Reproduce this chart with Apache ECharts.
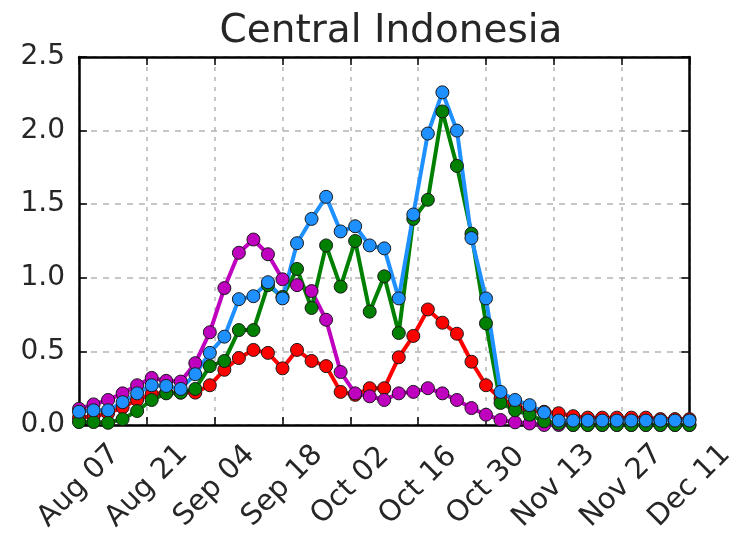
<!DOCTYPE html>
<html>
<head>
<meta charset="utf-8">
<script src="https://cdn.jsdelivr.net/npm/echarts@6/dist/echarts.min.js"></script>
<style>
  html, body { margin: 0; padding: 0; background: #fff; }
  #chart { width: 738px; height: 541px; }
</style>
</head>
<body>
<div id="chart"></div>
<script>
// Sample dates, every three days from Aug 07 to Dec 11
const dates = [
  '2015-08-07','2015-08-10','2015-08-13','2015-08-16','2015-08-19','2015-08-22','2015-08-25',
  '2015-08-28','2015-08-31','2015-09-03','2015-09-06','2015-09-09','2015-09-12','2015-09-15',
  '2015-09-18','2015-09-21','2015-09-24','2015-09-27','2015-09-30','2015-10-03','2015-10-06',
  '2015-10-09','2015-10-12','2015-10-15','2015-10-18','2015-10-21','2015-10-24','2015-10-27',
  '2015-10-30','2015-11-02','2015-11-05','2015-11-08','2015-11-11','2015-11-14','2015-11-17',
  '2015-11-20','2015-11-23','2015-11-26','2015-11-29','2015-12-02','2015-12-05','2015-12-08',
  '2015-12-11'
];

const redValues = [
  0.05, 0.06, 0.08, 0.12, 0.17, 0.21, 0.22, 0.22, 0.22, 0.27, 0.375, 0.455, 0.51, 0.49,
  0.385, 0.51, 0.435, 0.40, 0.225, 0.205, 0.25, 0.25, 0.46, 0.605, 0.785, 0.695, 0.62,
  0.43, 0.27, 0.18, 0.13, 0.10, 0.09, 0.08, 0.06, 0.05, 0.05, 0.05, 0.05, 0.05, 0.04,
  0.04, 0.04
];
const magentaValues = [
  0.11, 0.14, 0.17, 0.215, 0.27, 0.32, 0.30, 0.295, 0.42, 0.63, 0.93, 1.17, 1.26, 1.16,
  0.99, 0.95, 0.91, 0.715, 0.36, 0.215, 0.195, 0.17, 0.215, 0.225, 0.25, 0.215, 0.17,
  0.115, 0.07, 0.034, 0.018, 0.01, 0.0, 0.0, 0.0, 0.0, 0.0, 0.0, 0.0, 0.0, 0.0, 0.0, 0.0
];
const greenValues = [
  0.02, 0.02, 0.015, 0.04, 0.095, 0.17, 0.215, 0.22, 0.245, 0.40, 0.435, 0.645, 0.645, 0.95,
  0.87, 1.06, 0.795, 1.22, 0.94, 1.25, 0.77, 1.01, 0.625, 1.40, 1.53, 2.13, 1.76,
  1.30, 0.69, 0.15, 0.10, 0.07, 0.025, 0.01, 0.0, 0.0, 0.0, 0.0, 0.0, 0.0, 0.0, 0.0, 0.0
];
const blueValues = [
  0.09, 0.10, 0.10, 0.155, 0.215, 0.27, 0.265, 0.245, 0.345, 0.49, 0.60, 0.855, 0.875, 0.97,
  0.86, 1.235, 1.40, 1.55, 1.315, 1.35, 1.22, 1.20, 0.86, 1.43, 1.98, 2.26, 2.00,
  1.27, 0.86, 0.225, 0.17, 0.135, 0.085, 0.03, 0.03, 0.03, 0.03, 0.03, 0.03, 0.03, 0.03,
  0.03, 0.03
];

// Axis range in days from the first date, ticks every two weeks
const startDate = '2015-08-07';
const endDate = '2015-12-11';
const tickDays = 14;
const yTicks = [0.0, 0.5, 1.0, 1.5, 2.0, 2.5];

const DAY = 86400000;
const t0 = Date.parse(startDate + 'T00:00:00Z');
const dayOf = d => Math.round((Date.parse(d + 'T00:00:00Z') - t0) / DAY);
const MONTHS = ['Jan','Feb','Mar','Apr','May','Jun','Jul','Aug','Sep','Oct','Nov','Dec'];
const fmtDay = v => {
  const dt = new Date(t0 + v * DAY);
  return MONTHS[dt.getUTCMonth()] + ' ' + String(dt.getUTCDate()).padStart(2, '0');
};
const pairs = vals => dates.map((d, i) => [dayOf(d), vals[i]]);

const FONT = 'DejaVu Sans';
const gridLine = (type) => ({ show: true, lineStyle: { color: '#b4b4b4', width: 1.5, type: type } });
const frame = { show: true, onZero: false, lineStyle: { color: '#000', width: 2.5 } };
const ticks = { show: true, inside: true, length: 8, lineStyle: { color: '#000', width: 1.5 } };

const mkSeries = (name, color, vals) => ({
  name: name,
  type: 'line',
  data: pairs(vals),
  symbol: 'circle',
  symbolSize: 13,
  lineStyle: { color: color, width: 4 },
  itemStyle: { color: color, borderColor: '#1a1a1a', borderWidth: 1 },
  emphasis: { disabled: true },
  animation: false,
  z: 3
});

const chart = echarts.init(document.getElementById('chart'), null, { renderer: 'canvas' });
chart.setOption({
  backgroundColor: '#ffffff',
  animation: false,
  title: {
    text: 'Central Indonesia',
    left: 386, top: 7, textAlign: 'center',
    textStyle: { fontFamily: FONT, fontSize: 39, fontWeight: 'normal', color: '#262626' }
  },
  grid: { left: 79, right: 45, top: 57, bottom: 116 },
  xAxis: [{
    type: 'value',
    min: 0, max: dayOf(endDate), interval: tickDays,
    axisLine: frame,
    axisTick: ticks,
    splitLine: gridLine([4, 6]),
    axisLabel: {
      rotate: 45, margin: 61, align: 'center', verticalAlign: 'middle',
      fontFamily: FONT, fontSize: 29, color: '#262626',
      formatter: v => fmtDay(v)
    }
  }, {
    type: 'value', position: 'top',
    min: 0, max: dayOf(endDate), interval: tickDays,
    axisLine: frame,
    axisTick: ticks,
    splitLine: { show: false },
    axisLabel: { show: false }
  }],
  yAxis: [{
    type: 'value',
    min: yTicks[0], max: yTicks[yTicks.length - 1], interval: 0.5,
    axisLine: frame,
    axisTick: ticks,
    splitLine: gridLine([6, 6]),
    axisLabel: {
      margin: 14, fontFamily: FONT, fontSize: 28, color: '#262626',
      formatter: v => v.toFixed(1)
    }
  }, {
    type: 'value', position: 'right',
    min: yTicks[0], max: yTicks[yTicks.length - 1], interval: 0.5,
    axisLine: frame,
    axisTick: ticks,
    splitLine: { show: false },
    axisLabel: { show: false }
  }],
  series: [
    mkSeries('red', '#ff0000', redValues),
    mkSeries('magenta', '#bf00bf', magentaValues),
    mkSeries('green', '#008000', greenValues),
    mkSeries('blue', '#1e90ff', blueValues)
  ]
});
</script>
</body>
</html>
